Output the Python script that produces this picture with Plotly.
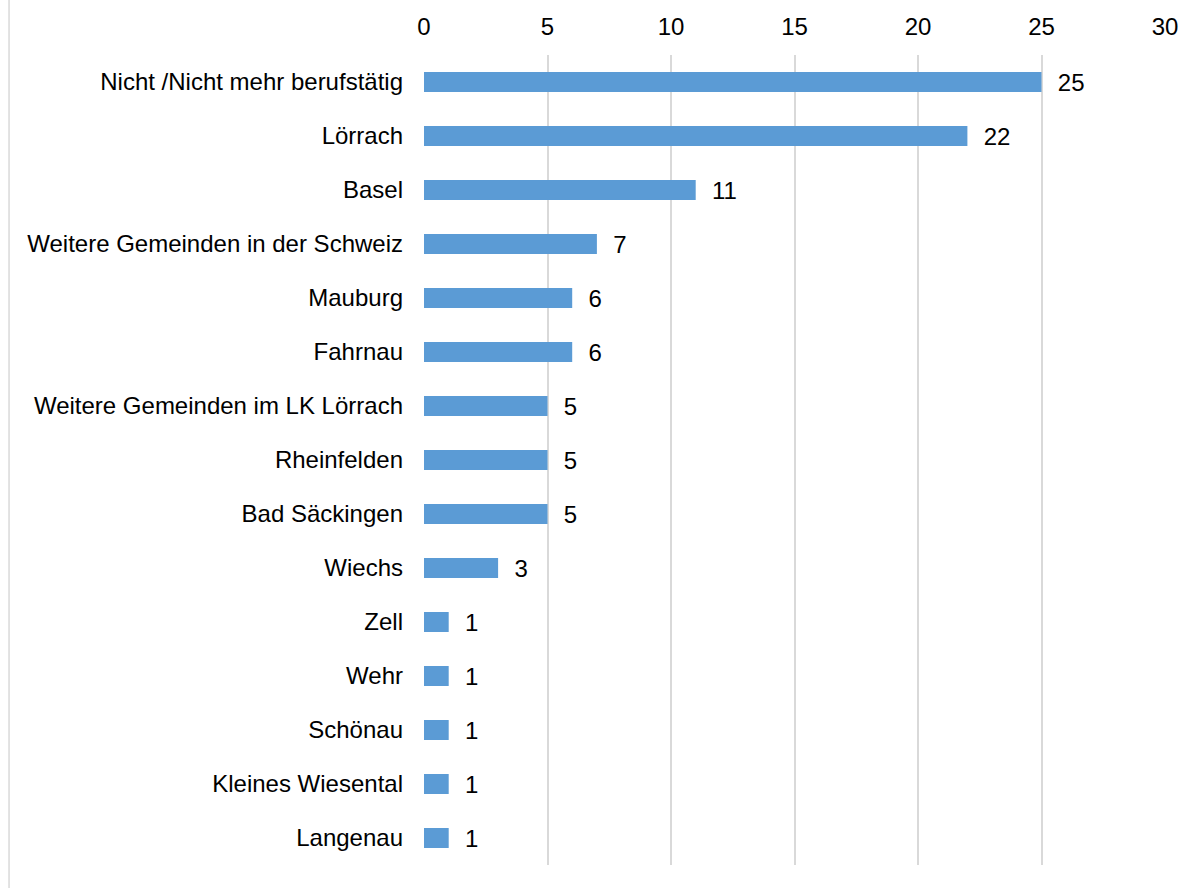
import plotly.graph_objects as go

categories = ["Nicht /Nicht mehr berufstätig", "Lörrach", "Basel", "Weitere Gemeinden in der Schweiz",
              "Mauburg", "Fahrnau", "Weitere Gemeinden im LK Lörrach", "Rheinfelden", "Bad Säckingen",
              "Wiechs", "Zell", "Wehr", "Schönau", "Kleines Wiesental", "Langenau"]
values = [25, 22, 11, 7, 6, 6, 5, 5, 5, 3, 1, 1, 1, 1, 1]
x_ticks = [0, 5, 10, 15, 20, 25, 30]

FONT = "Liberation Sans, Arial, sans-serif"
FS = 24

fig = go.Figure(go.Bar(
    y=categories, x=values, orientation="h",
    marker=dict(color="#5B9BD5", line=dict(width=0)),
    width=0.37,
    text=values, texttemplate="  %{x}", textposition="outside",
    constraintext="none",
    textfont=dict(family=FONT, size=FS, color="#000000"),
    cliponaxis=False,
))

fig.update_layout(
    width=1194, height=888,
    margin=dict(l=424, r=29, t=55, b=23),
    paper_bgcolor="white", plot_bgcolor="white",
    font=dict(family=FONT, size=FS, color="#000000"),
    showlegend=False,
    xaxis=dict(side="top", range=[0, 30], tickvals=x_ticks, showgrid=True,
               gridcolor="#D9D9D9", gridwidth=1.5, zeroline=False, showline=False,
               ticks="", tickfont=dict(size=FS), ticklabelstandoff=14),
    yaxis=dict(autorange="reversed", showgrid=False, zeroline=False, showline=False,
               ticks="", ticklabelstandoff=20, tickfont=dict(size=FS)),
    uniformtext=dict(mode=False),
    shapes=[dict(type="line", xref="x domain", yref="paper", x0=-0.56, x1=-0.56,
                 y0=-0.03, y1=1.07, line=dict(color="#D9D9D9", width=1.5))],
)

fig.write_html("out.html")
